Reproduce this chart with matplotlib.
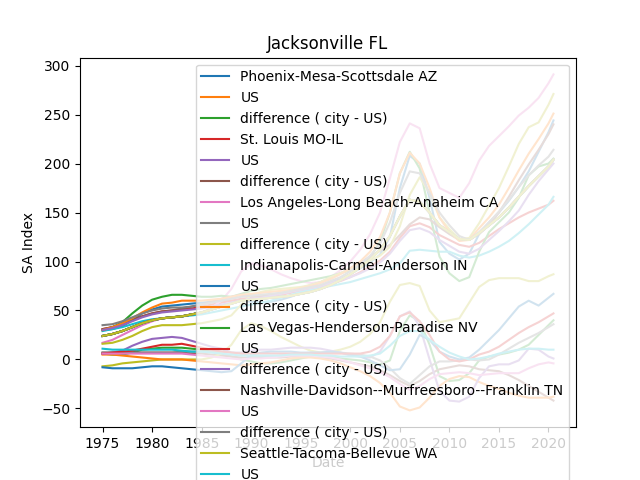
import matplotlib.pyplot as plt

# yearly points, last one is mid 2020
years = list(range(1975, 2021)) + [2020.5]

us = [24, 26, 29, 33, 37,
      40, 42, 43, 44, 46,
      48, 51, 54, 57, 60,
      61, 62, 63, 64, 65,
      67, 69, 72, 76, 81,
      87, 94, 102, 112, 126,
      146, 163, 161, 150, 137,
      130, 123, 122, 129, 137,
      145, 155, 166, 177, 187,
      197, 204]

cities = ["Phoenix-Mesa-Scottsdale AZ",
          "St. Louis MO-IL",
          "Los Angeles-Long Beach-Anaheim CA",
          "Indianapolis-Carmel-Anderson IN",
          "Las Vegas-Henderson-Paradise NV",
          "Nashville-Davidson--Murfreesboro--Franklin TN",
          "Seattle-Tacoma-Bellevue WA",
          "Tampa-St. Petersburg-Clearwater FL",
          "Atlanta-Sandy Springs-Roswell GA",
          "Jacksonville FL"]

phoenix = [30, 31, 34, 40, 47,
           51, 54, 55, 56, 57,
           58, 59, 60, 60, 60,
           59, 58, 59, 61, 64,
           68, 72, 75, 79, 82,
           87, 93, 99, 107, 125,
           175, 208, 200, 165, 120,
           108, 102, 108, 128, 140,
           150, 162, 176, 192, 212,
           232, 244]
st_louis = [31, 33, 36, 40, 44,
            47, 49, 50, 51, 52,
            54, 56, 58, 60, 62,
            63, 64, 65, 66, 68,
            70, 72, 74, 77, 80,
            84, 89, 95, 101, 110,
            124, 136, 139, 135, 127,
            122, 117, 115, 119, 126,
            133, 139, 145, 150, 154,
            158, 162]
los_angeles = [17, 20, 25, 30, 35,
               39, 42, 43, 44, 46,
               48, 53, 60, 72, 90,
               98, 96, 92, 87, 83,
               80, 78, 79, 84, 91,
               100, 112, 128, 150, 185,
               222, 241, 236, 200, 175,
               170, 165, 180, 203, 218,
               228, 238, 249, 257, 267,
               282, 291]
indianapolis = [29, 31, 33, 36, 39,
                41, 42, 43, 44, 45,
                46, 48, 50, 52, 54,
                56, 58, 60, 63, 66,
                69, 71, 73, 75, 77,
                79, 82, 85, 88, 92,
                98, 111, 112, 111, 110,
                110, 106, 104, 106, 110,
                115, 121, 129, 138, 148,
                158, 166]
las_vegas = [30, 33, 38, 47, 55,
             61, 64, 66, 66, 65,
             64, 64, 65, 64, 67,
             70, 72, 73, 75, 77,
             79, 81, 83, 85, 88,
             91, 97, 104, 120, 150,
             190, 212, 195, 150, 105,
             88, 80, 84, 110, 130,
             140, 150, 165, 188, 197,
             200, 205]
nashville = [31, 33, 36, 40, 44,
             47, 49, 50, 52, 54,
             56, 59, 62, 64, 66,
             64, 65, 66, 68, 70,
             73, 76, 79, 83, 88,
             93, 99, 105, 111, 117,
             127, 138, 145, 143, 135,
             128, 122, 122, 128, 137,
             150, 166, 183, 199, 214,
             230, 240]
seattle = [16, 17, 20, 24, 29,
           33, 35, 35, 35, 36,
           37, 39, 41, 45, 56,
           66, 69, 71, 72, 73,
           74, 76, 79, 84, 88,
           92, 97, 101, 106, 115,
           136, 168, 186, 170, 145,
           133, 123, 124, 139, 157,
           175, 197, 220, 237, 242,
           260, 271]
tampa = [30, 33, 37, 42, 48,
         53, 57, 58, 60, 60,
         60, 61, 62, 64, 66,
         67, 68, 69, 70, 71,
         73, 75, 78, 82, 87,
         93, 100, 110, 125, 150,
         190, 211, 200, 175, 145,
         130, 121, 122, 134, 145,
         158, 175, 193, 210, 225,
         241, 251]
atlanta = [30, 32, 35, 39, 43,
           46, 48, 49, 50, 51,
           52, 54, 56, 58, 60,
           62, 63, 65, 67, 69,
           71, 73, 75, 78, 81,
           84, 88, 93, 99, 108,
           121, 132, 134, 130, 122,
           116, 110, 108, 113, 122,
           131, 141, 152, 168, 182,
           194, 200]
jacksonville = [35, 36, 39, 43, 47,
                50, 52, 53, 53, 54,
                56, 58, 60, 62, 64,
                65, 66, 67, 68, 70,
                72, 74, 76, 80, 84,
                90, 97, 106, 118, 140,
                170, 192, 190, 170, 150,
                137, 126, 122, 130, 140,
                151, 163, 176, 188, 198,
                207, 214]

city_values = [phoenix, st_louis, los_angeles, indianapolis, las_vegas,
               nashville, seattle, tampa, atlanta, jacksonville]

tick_years = [1975, 1980, 1985, 1990, 1995, 2000, 2005, 2010, 2015, 2020]
tick_labels = [str(y) for y in tick_years]

plt.figure(figsize=(6.4, 4.8))
for name, vals in zip(cities, city_values):
    diff = [c - u for c, u in zip(vals, us)]
    plt.plot(years, vals, label=name)
    plt.plot(years, us, label="US")
    plt.plot(years, diff, label="difference ( city - US)")
    plt.title(name)

plt.xlabel("Date")
plt.ylabel("SA Index")
plt.xticks(tick_years, tick_labels)
plt.legend(loc="upper right")
plt.savefig("out.png")
